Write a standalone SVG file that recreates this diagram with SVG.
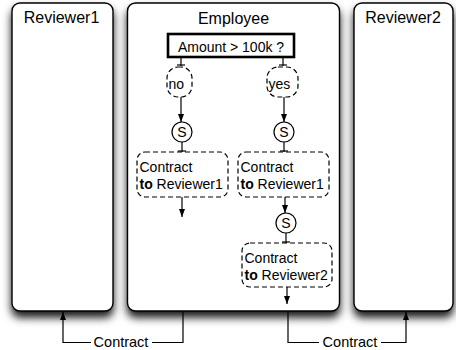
<svg xmlns="http://www.w3.org/2000/svg" width="456" height="350" viewBox="0 0 456 350">
  <style>
    text { font-family: "Liberation Sans", Arial, sans-serif; fill: #000; }
    .lane { fill: #fff; stroke: #000; stroke-width: 1.4; filter: url(#shadow); }
    .title { font-size: 16px; text-anchor: middle; }
    .lbl { font-size: 14px; }
    .flow { font-size: 14.5px; text-anchor: middle; }
    .dash { fill: #fff; stroke: #000; stroke-width: 1.2; stroke-dasharray: 5 3; }
    .cond { fill: #fff; stroke: #000; stroke-width: 2.6; }
    .send { fill: #fff; stroke: #000; stroke-width: 1.2; }
    .edge { fill: none; stroke: #000; stroke-width: 1.2; }
    .arr { marker-end: url(#arrow); }
    .tee { marker-end: url(#tee); }
  </style>
  <defs>
    <filter id="shadow" x="-20%" y="-10%" width="140%" height="130%">
      <feDropShadow dx="0" dy="6" stdDeviation="4" flood-color="#000" flood-opacity="0.9"/>
    </filter>
    <marker id="arrow" viewBox="0 0 8 8" refX="8" refY="4" markerWidth="8" markerHeight="8" markerUnits="userSpaceOnUse" orient="auto">
      <path d="M0,1 L8,4 L0,7 Z" fill="#000"/>
    </marker>
    <marker id="tee" viewBox="0 0 4 8" refX="3" refY="4" markerWidth="4" markerHeight="8" markerUnits="userSpaceOnUse" orient="auto">
      <path d="M2,0 V8" stroke="#000" stroke-width="1.2"/>
    </marker>
  </defs>

  <!-- swimlanes -->
  <g id="reviewer1">
    <rect class="lane" x="12" y="3" width="101" height="308" rx="8"/>
    <text class="title" x="61.5" y="23">Reviewer1</text>
  </g>
  <g id="employee">
    <rect class="lane" x="127.5" y="3" width="212" height="308" rx="8"/>
    <text class="title" x="233.5" y="24">Employee</text>
  </g>
  <g id="reviewer2">
    <rect class="lane" x="354" y="3" width="99" height="308" rx="8"/>
    <text class="title" x="403" y="23">Reviewer2</text>
  </g>

  <!-- connectors -->
  <g id="connectors">
    <path class="edge tee" d="M181,57.5 V66"/>
    <path class="edge tee" d="M283,57.5 V66"/>
    <path class="edge arr" d="M181,97 V122"/>
    <path class="edge arr" d="M284,97 V122"/>
    <path class="edge tee" d="M182,142 V152"/>
    <path class="edge tee" d="M284,142 V152"/>
    <path class="edge arr" d="M182,197 V217"/>
    <path class="edge arr" d="M285,197 V213"/>
    <path class="edge tee" d="M286,233 V243"/>
    <path class="edge arr" d="M287,287 V304"/>
    <path class="edge" d="M183,311 V342.5 H152"/>
    <path class="edge arr" d="M91,342.5 H63 V312"/>
    <path class="edge" d="M288,311 V342.5 H319"/>
    <path class="edge arr" d="M381,342.5 H406 V312"/>
    <text class="flow" x="121" y="346.5">Contract</text>
    <text class="flow" x="350" y="346.5">Contract</text>
  </g>

  <!-- employee process -->
  <g id="decision">
    <rect class="cond" x="168" y="34" width="126" height="23"/>
    <text class="lbl" x="231" y="52" text-anchor="middle">Amount &gt; 100k ?</text>
  </g>
  <g id="no">
    <rect class="dash" x="167" y="67" width="25" height="30" rx="11"/>
    <text class="lbl" x="168.5" y="89">no</text>
  </g>
  <g id="yes">
    <rect class="dash" x="267" y="67" width="31" height="30" rx="11"/>
    <text class="lbl" x="268.5" y="89">yes</text>
  </g>
  <g id="send-no">
    <circle class="send" cx="182" cy="132" r="10"/>
    <text class="lbl" x="182" y="137" text-anchor="middle">S</text>
  </g>
  <g id="send-yes">
    <circle class="send" cx="284" cy="132" r="10"/>
    <text class="lbl" x="284" y="137" text-anchor="middle">S</text>
  </g>
  <g id="contract-no">
    <rect class="dash" x="137" y="152" width="91" height="45" rx="8"/>
    <text class="lbl" x="139.5" y="172">Contract</text>
    <text class="lbl" x="139.5" y="189"><tspan font-weight="bold">to</tspan> Reviewer1</text>
  </g>
  <g id="contract-yes">
    <rect class="dash" x="238" y="152" width="91" height="45" rx="8"/>
    <text class="lbl" x="240.5" y="172">Contract</text>
    <text class="lbl" x="240.5" y="189"><tspan font-weight="bold">to</tspan> Reviewer1</text>
  </g>
  <g id="send-yes-2">
    <circle class="send" cx="286" cy="223" r="10"/>
    <text class="lbl" x="286" y="228" text-anchor="middle">S</text>
  </g>
  <g id="contract-yes-2">
    <rect class="dash" x="242" y="243" width="90" height="44" rx="8"/>
    <text class="lbl" x="244.5" y="263">Contract</text>
    <text class="lbl" x="244.5" y="280"><tspan font-weight="bold">to</tspan> Reviewer2</text>
  </g>
</svg>
